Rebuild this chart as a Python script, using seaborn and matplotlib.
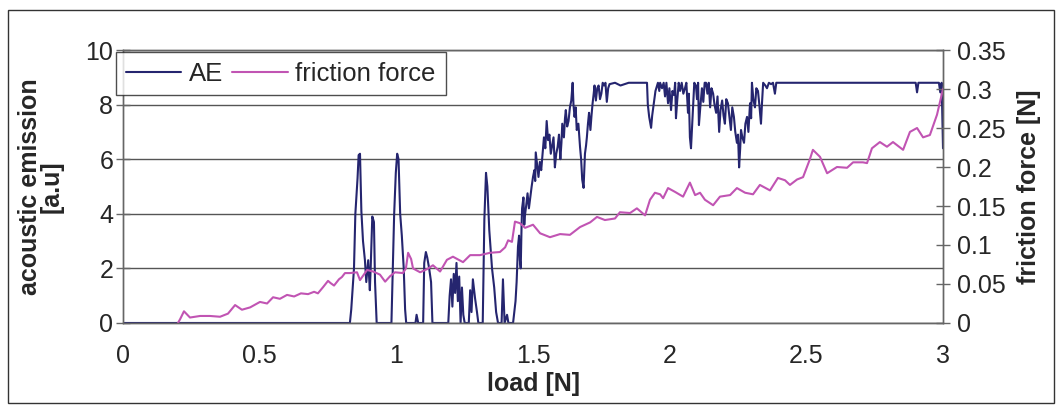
import matplotlib
matplotlib.use("Agg")
import matplotlib.pyplot as plt
import matplotlib.ticker as mticker
import seaborn as sns

# AE signal (left axis)
ae_load = [0.0, 0.42, 0.83, 0.835, 0.845, 0.85, 0.858, 0.862, 0.867, 0.872, 0.878,
           0.885, 0.89, 0.897, 0.903, 0.906, 0.912, 0.918, 0.922, 0.928, 0.982,
           0.987, 0.992, 0.998, 1.003, 1.008, 1.014, 1.02, 1.027, 1.032, 1.036,
           1.07, 1.074, 1.08, 1.098, 1.102, 1.108, 1.113, 1.12, 1.127, 1.132,
           1.19, 1.195, 1.2, 1.205, 1.21, 1.215, 1.22, 1.225, 1.23, 1.235, 1.24,
           1.245, 1.25, 1.265, 1.27, 1.275, 1.28, 1.288, 1.295, 1.3, 1.316,
           1.322, 1.328, 1.333, 1.34, 1.35, 1.358, 1.365, 1.372, 1.385, 1.39,
           1.396, 1.405, 1.41, 1.427, 1.436, 1.44, 1.445, 1.449, 1.452, 1.455,
           1.458, 1.46, 1.465, 1.468, 1.47, 1.475, 1.48, 1.485, 1.49, 1.495,
           1.5, 1.505, 1.508, 1.51, 1.515, 1.52, 1.525, 1.53, 1.535, 1.54,
           1.545, 1.55, 1.555, 1.56, 1.565, 1.57, 1.575, 1.58, 1.585, 1.59,
           1.595, 1.6, 1.604, 1.607, 1.613, 1.617, 1.62, 1.625, 1.63, 1.635,
           1.64, 1.645, 1.648, 1.652, 1.656, 1.66, 1.666, 1.672, 1.676, 1.68,
           1.685, 1.69, 1.694, 1.697, 1.701, 1.705, 1.71, 1.714, 1.718, 1.722,
           1.725, 1.73, 1.735, 1.74, 1.745, 1.75, 1.755, 1.76, 1.765, 1.77,
           1.775, 1.78, 1.8, 1.82, 1.85, 1.9, 1.917, 1.92, 1.925, 1.932,
           1.936, 1.94, 1.948, 1.957, 1.962, 1.965, 1.972, 1.978, 1.983, 1.988,
           1.994, 1.999, 2.005, 2.01, 2.016, 2.02, 2.023, 2.028, 2.033, 2.038,
           2.044, 2.05, 2.056, 2.061, 2.067, 2.07, 2.074, 2.078, 2.082, 2.085,
           2.09, 2.096, 2.1, 2.104, 2.107, 2.112, 2.118, 2.123, 2.128, 2.133,
           2.138, 2.143, 2.148, 2.153, 2.159, 2.164, 2.17, 2.175, 2.181, 2.186,
           2.192, 2.197, 2.202, 2.207, 2.213, 2.218, 2.224, 2.229, 2.235, 2.24,
           2.246, 2.25, 2.254, 2.258, 2.261, 2.266, 2.272, 2.277, 2.283, 2.288,
           2.294, 2.298, 2.301, 2.306, 2.312, 2.317, 2.323, 2.328, 2.334, 2.338,
           2.342, 2.35, 2.356, 2.363, 2.371, 2.378, 2.385, 2.39, 2.396, 2.9,
           2.905, 2.91, 2.985, 2.99, 2.995, 3.0]
ae_value = [0, 0, 0, 0.5, 2.0, 4.0, 5.3, 6.15, 6.2, 4.1, 3.0,
            2.3, 1.5, 2.3, 1.2, 2.0, 3.9, 3.7, 1.5, 0, 0,
            2.0, 4.0, 5.5, 6.2, 6.0, 4.0, 3.2, 2.0, 0.5, 0,
            0, 0.3, 0, 0, 2.2, 2.6, 2.4, 2.0, 1.5, 0,
            0, 1.0, 1.6, 0.6, 1.8, 1.1, 2.2, 0.8, 1.7, 0, 1.3,
            0.3, 0, 0, 1.2, 0.4, 1.6, 0.9, 0.4, 0, 0,
            3.8, 5.5, 5.0, 3.4, 2.0, 1.3, 0.4, 0, 0, 1.6,
            0, 0.3, 0, 0, 0.8, 1.5, 2.8, 3.2, 2.3, 2.0,
            3.5, 4.2, 4.6, 3.6, 3.9, 4.3, 4.75, 4.2, 4.6, 5.0,
            5.35, 5.6, 5.2, 6.25, 5.8, 5.35, 5.9, 5.6, 6.2, 6.8,
            6.4, 7.4, 6.7, 6.9, 6.2, 6.5, 6.8, 5.7, 6.2, 6.45,
            6.9, 6.0, 6.6, 7.3, 6.8, 7.5, 7.8, 7.2, 7.4, 7.9,
            8.15, 8.8, 8.0, 7.55, 7.9, 7.07, 7.3, 6.45, 6.0, 5.25,
            4.95, 6.2, 6.5, 6.8, 7.3, 7.7, 7.07, 7.6, 8.05, 8.4,
            8.7, 8.15, 8.6, 8.7, 8.2, 8.4, 8.8, 8.7, 8.8, 8.1,
            8.6, 8.75, 8.8, 8.7, 8.8, 8.8, 8.8, 8.0, 7.55, 7.15,
            7.6, 7.9, 8.5, 8.8, 8.5, 8.8, 8.6, 8.8, 8.3, 8.8,
            8.05, 8.6, 7.8, 8.5, 8.35, 8.8, 7.5, 8.2, 8.8, 8.5,
            8.8, 8.4, 8.6, 8.8, 7.7, 8.4, 6.8, 6.4, 7.2, 7.8,
            8.8, 8.7, 8.2, 8.8, 7.25, 7.9, 8.6, 8.1, 8.8, 8.8,
            8.4, 8.8, 7.9, 8.6, 8.4, 8.0, 7.7, 8.3, 7.0, 7.8,
            8.15, 7.6, 7.3, 8.2, 8.05, 7.6, 7.07, 7.9, 7.55, 7.0,
            6.6, 6.9, 5.7, 6.4, 7.07, 6.8, 6.6, 7.3, 7.55, 7.0,
            8.05, 7.5, 8.8, 8.2, 7.9, 8.6, 8.5, 8.0, 7.3, 8.1,
            8.8, 8.7, 8.6, 8.8, 8.75, 8.8, 8.4, 8.8, 8.8, 8.8,
            8.45, 8.8, 8.8, 8.45, 8.8, 6.4]

# friction force (right axis)
fr_load = [0.201, 0.209, 0.223, 0.245, 0.282, 0.318, 0.355, 0.384, 0.41, 0.435,
           0.465, 0.501, 0.527, 0.549, 0.574, 0.6, 0.626, 0.651, 0.677, 0.699,
           0.713, 0.732, 0.75, 0.76, 0.772, 0.79, 0.801, 0.812, 0.83, 0.856,
           0.867, 0.893, 0.915, 0.94, 0.959, 0.977, 0.995, 1.024, 1.035, 1.043,
           1.054, 1.061, 1.087, 1.112, 1.134, 1.16, 1.185, 1.207, 1.244, 1.27,
           1.306, 1.343, 1.379, 1.398, 1.409, 1.423, 1.434, 1.452, 1.471, 1.5,
           1.526, 1.562, 1.599, 1.635, 1.672, 1.709, 1.734, 1.763, 1.8, 1.818,
           1.855, 1.88, 1.91, 1.928, 1.946, 1.965, 1.976, 1.994, 2.02, 2.049,
           2.074, 2.093, 2.111, 2.129, 2.159, 2.184, 2.221, 2.246, 2.276, 2.305,
           2.33, 2.367, 2.396, 2.422, 2.44, 2.466, 2.488, 2.513, 2.524, 2.55,
           2.576, 2.612, 2.649, 2.671, 2.707, 2.722, 2.74, 2.769, 2.795, 2.817,
           2.854, 2.879, 2.905, 2.927, 2.952, 2.978, 3.0]
fr_value = [0.0, 0.005, 0.015, 0.007, 0.009, 0.009, 0.008, 0.012, 0.023, 0.017,
            0.02, 0.027, 0.025, 0.033, 0.031, 0.036, 0.034, 0.038, 0.037, 0.040,
            0.038, 0.046, 0.054, 0.051, 0.048, 0.056, 0.059, 0.064, 0.064, 0.065,
            0.055, 0.068, 0.066, 0.062, 0.053, 0.06, 0.065, 0.064, 0.07, 0.09,
            0.082, 0.07, 0.065, 0.069, 0.074, 0.066, 0.081, 0.085, 0.078, 0.087,
            0.087, 0.09, 0.091, 0.097, 0.106, 0.104, 0.13, 0.128, 0.122, 0.126,
            0.115, 0.11, 0.114, 0.113, 0.123, 0.129, 0.136, 0.132, 0.134, 0.142,
            0.141, 0.147, 0.138, 0.158, 0.167, 0.165, 0.16, 0.173, 0.168, 0.162,
            0.18, 0.164, 0.167, 0.158, 0.151, 0.162, 0.164, 0.173, 0.167, 0.165,
            0.177, 0.17, 0.186, 0.183, 0.177, 0.184, 0.187, 0.21, 0.222, 0.213,
            0.192, 0.2, 0.199, 0.206, 0.206, 0.205, 0.224, 0.232, 0.226, 0.232,
            0.222, 0.245, 0.25, 0.238, 0.241, 0.267, 0.30]

sns.set_style("white")
plt.rcParams["font.family"] = ["Liberation Sans", "DejaVu Sans"]

fig = plt.figure(figsize=(10.56, 4.05), dpi=100)
ax = fig.add_axes([0.1165, 0.2025, 0.7765, 0.674])
ax2 = ax.twinx()

sns.lineplot(x=ae_load, y=ae_value, ax=ax, color="#25256f", lw=1.5,
             estimator=None, label="AE", legend=False)
sns.lineplot(x=fr_load, y=fr_value, ax=ax2, color="#c154b3", lw=1.5,
             estimator=None, label="friction force", legend=False)

ax.set_xlim(0, 3)
ax.set_ylim(0, 10)
ax2.set_ylim(0, 0.35)
ax.set_xticks([0, 0.5, 1, 1.5, 2, 2.5, 3])
ax.set_yticks([0, 2, 4, 6, 8, 10])
ax2.set_yticks([0, 0.05, 0.1, 0.15, 0.2, 0.25, 0.3, 0.35])
fmt = mticker.FuncFormatter(lambda v, p: "%g" % v)
ax.xaxis.set_major_formatter(fmt)
ax2.yaxis.set_major_formatter(fmt)

ax.yaxis.grid(True, color="#555555", lw=1)
for a in (ax, ax2):
    for s in a.spines.values():
        s.set_color("#666666")
        s.set_linewidth(1)

ax.tick_params(axis="y", direction="inout", length=10, width=1, color="#666666",
               labelsize=18, pad=2)
ax.tick_params(axis="x", direction="out", length=6, width=1, color="#666666",
               labelsize=18, pad=9)
ax2.tick_params(axis="y", direction="inout", length=10, width=1, color="#666666",
                labelsize=18, pad=5)

ax.set_xlabel("load [N]", fontsize=18, fontweight="bold", labelpad=3)
ax.set_ylabel("acoustic emission\n[a.u]", fontsize=18, fontweight="bold",
              linespacing=0.85)
ax.yaxis.set_label_coords(-0.073, 0.5)
ax2.set_ylabel("friction force [N]", fontsize=18, fontweight="bold", labelpad=8)

h1, l1 = ax.get_legend_handles_labels()
h2, l2 = ax2.get_legend_handles_labels()
leg = ax2.legend(h1 + h2, l1 + l2, loc="upper left", bbox_to_anchor=(-0.008, 0.993),
                 ncol=2, fontsize=18.5, frameon=True, fancybox=False,
                 borderaxespad=0, handlelength=2.15, columnspacing=0.35,
                 handletextpad=0.3, borderpad=0.38)
leg.get_frame().set_edgecolor("#222222")
leg.get_frame().set_linewidth(1)

fig.add_artist(plt.Rectangle((0.008, 0.006), 0.99, 0.969, transform=fig.transFigure,
                             fill=False, ec="#333333", lw=1))

fig.savefig("out.png", dpi=100)
